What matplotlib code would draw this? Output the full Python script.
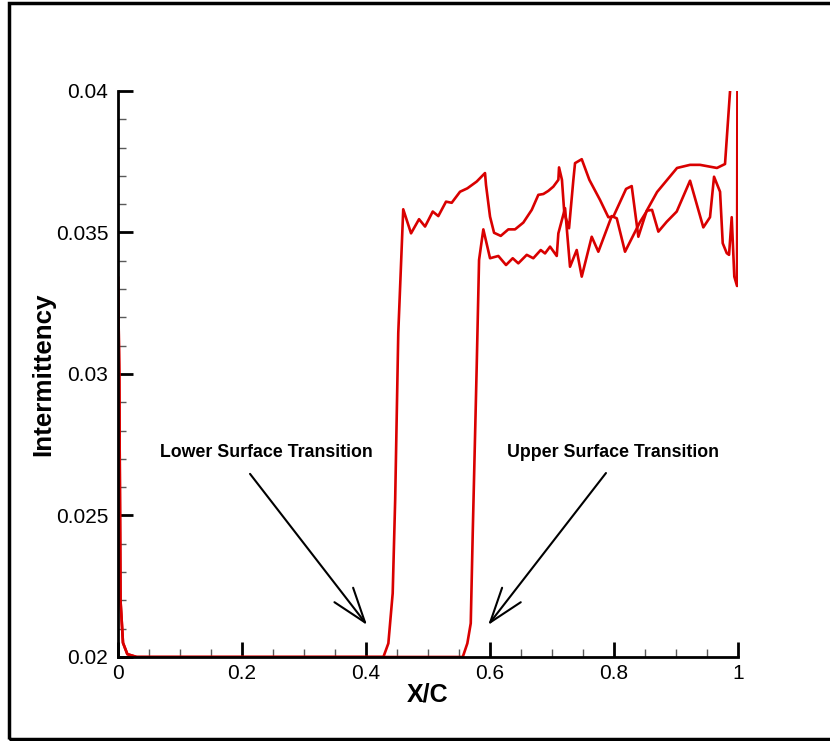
"""Intermittency along the chord"""

## Imports

import numpy as np
import matplotlib.pyplot as plt
from matplotlib.patches import Rectangle

plt.rcParams['font.family'] = ['Liberation Sans', 'DejaVu Sans']

## Data

# lower surface (first transition, x/c ~ 0.44)
x_low = [0.0, 0.002, 0.004, 0.008, 0.015, 0.03, 0.2, 0.428, 0.436, 0.443, 0.447,
         0.452, 0.460, 0.4726, 0.4855, 0.4952, 0.5076, 0.5166, 0.529, 0.5382,
         0.5516, 0.5634, 0.5785, 0.5919, 0.5935, 0.600, 0.6065, 0.6173, 0.6295,
         0.6403, 0.6537, 0.6673, 0.6779, 0.686, 0.694, 0.7021, 0.7102, 0.7113,
         0.716, 0.7198, 0.7274, 0.7344, 0.7371, 0.7479, 0.7602, 0.7774, 0.7908,
         0.7989, 0.8194, 0.8285, 0.8392, 0.8527, 0.8694, 0.9016, 0.9226, 0.9387,
         0.966, 0.979, 0.987, 0.9887]
y_low = [0.0334, 0.0300, 0.0220, 0.0205, 0.0201, 0.0200, 0.0200, 0.0200, 0.02048,
         0.02225, 0.02555, 0.03145, 0.03582, 0.03497, 0.03547, 0.03521, 0.03574,
         0.03558, 0.03609, 0.03605, 0.03644, 0.03656, 0.03680, 0.03710, 0.03668,
         0.03556, 0.03499, 0.03488, 0.03511, 0.03511, 0.03535, 0.03580, 0.03633,
         0.03636, 0.03647, 0.03662, 0.03686, 0.03730, 0.03686, 0.03568, 0.03515,
         0.03686, 0.03745, 0.03759, 0.03686, 0.03615, 0.03554, 0.03556, 0.03654,
         0.03664, 0.03485, 0.03577, 0.03643, 0.03728, 0.03739, 0.03739, 0.03728,
         0.03742, 0.03996, 0.0404]

# upper surface (second transition, x/c ~ 0.57)
x_up = [0.0, 0.002, 0.004, 0.008, 0.015, 0.03, 0.3, 0.556, 0.5634, 0.5689, 0.5721,
        0.5785, 0.5823, 0.5892, 0.600, 0.6134, 0.6258, 0.6366, 0.6456, 0.6592,
        0.6698, 0.6818, 0.6887, 0.6968, 0.7076, 0.7102, 0.721, 0.729, 0.7398,
        0.7479, 0.764, 0.7747, 0.7963, 0.8044, 0.8177, 0.8419, 0.8532, 0.8613,
        0.8715, 0.885, 0.9011, 0.9226, 0.944, 0.9548, 0.9613, 0.971, 0.9753,
        0.9818, 0.9855, 0.9898, 0.994, 0.9984, 0.999]
y_up = [0.0334, 0.0300, 0.0220, 0.0205, 0.0201, 0.0200, 0.0200, 0.0200, 0.02048,
        0.02119, 0.02438, 0.03026, 0.03403, 0.03511, 0.03409, 0.03417, 0.03385,
        0.03409, 0.03391, 0.03421, 0.03409, 0.03438, 0.03426, 0.03450, 0.03417,
        0.03497, 0.03586, 0.03379, 0.03438, 0.03344, 0.03485, 0.03432, 0.03558,
        0.03550, 0.03432, 0.03537, 0.03577, 0.03580, 0.03503, 0.03538, 0.03574,
        0.03683, 0.03518, 0.03554, 0.03697, 0.03644, 0.03462, 0.03427, 0.03421,
        0.03554, 0.03344, 0.03311, 0.0404]

x_ticks = [0, 0.2, 0.4, 0.6, 0.8, 1]
x_labels = ["0", "0.2", "0.4", "0.6", "0.8", "1"]
y_ticks = [0.02, 0.025, 0.03, 0.035, 0.04]
y_labels = ["0.02", "0.025", "0.03", "0.035", "0.04"]

# annotations : (text, text position, arrow tail, arrow tip)
notes = [("Lower Surface Transition", (0.2387, 0.02721), (0.2129, 0.02647), (0.4016, 0.02113)),
         ("Upper Surface Transition", (0.798, 0.02721), (0.787, 0.0265), (0.597, 0.02113))]

## Plot

fig = plt.figure(figsize=(8.3, 7.41), dpi=100)
ax = fig.add_axes([0.1422, 0.1134, 0.747, 0.7638])

rouge = '#d90000'
ax.plot(x_low, y_low, color=rouge, lw=1.9)
ax.plot(x_up, y_up, color=rouge, lw=1.9)

ax.set_xlim(0, 1)
ax.set_ylim(0.02, 0.04)
ax.set_xticks(x_ticks)
ax.set_xticklabels(x_labels)
ax.set_yticks(y_ticks)
ax.set_yticklabels(y_labels)
ax.set_xticks(np.arange(0, 1.001, 0.05), minor=True)
ax.set_yticks(np.arange(0.02, 0.04001, 0.001), minor=True)

ax.tick_params(which='major', direction='in', length=10.5, width=2, labelsize=15, pad=5)
ax.tick_params(axis='y', which='major', pad=7)
ax.tick_params(which='minor', direction='in', length=5.5, width=1, color='0.35')

for s in ['top', 'right']:
    ax.spines[s].set_visible(False)
for s in ['left', 'bottom']:
    ax.spines[s].set_linewidth(2)

ax.set_xlabel("X/C", fontsize=18, fontweight='bold')
ax.set_ylabel("Intermittency", fontsize=18.7, fontweight='bold')
ax.xaxis.set_label_coords(0.5, -0.045)
ax.yaxis.set_label_coords(-0.102, 0.5)

for (txt, pos, tail, tip) in notes:
    ax.text(pos[0], pos[1], txt, fontsize=12.8, fontweight='bold', ha='center', va='center')
    ax.annotate("", xy=tip, xytext=tail,
                arrowprops=dict(arrowstyle="->,head_length=2.5,head_width=0.85",
                                color='black', lw=1.5, mutation_scale=10,
                                shrinkA=0, shrinkB=0))

# cadre autour de la figure
fig.patches.append(Rectangle((0.011, 0.003), 1.1, 0.993, transform=fig.transFigure,
                             fill=False, edgecolor='black', lw=2.5))

fig.savefig("out.png", dpi=100)
